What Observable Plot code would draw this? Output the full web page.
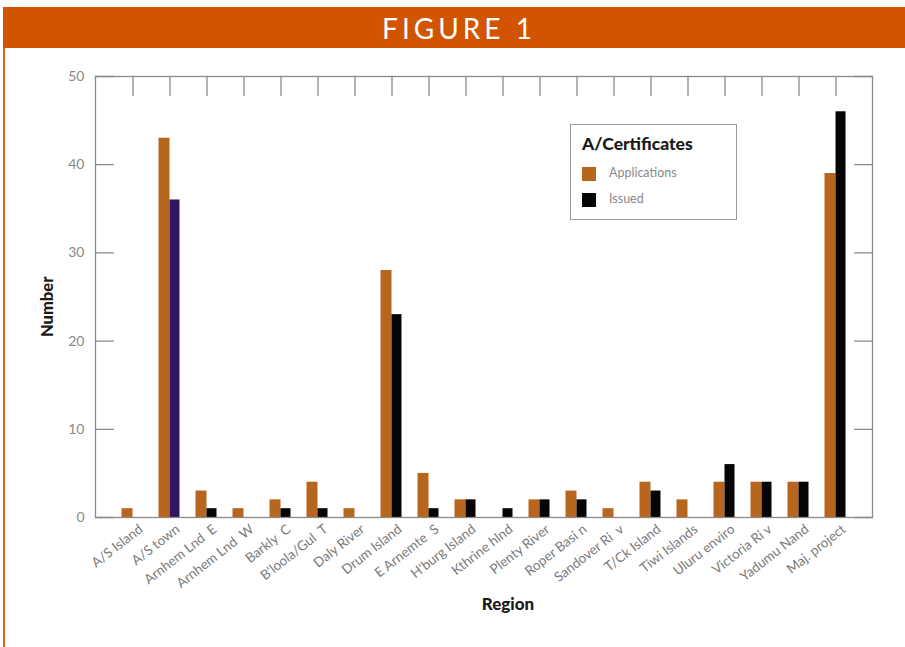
<!DOCTYPE html>
<html><head><meta charset="utf-8">
<script src="https://cdn.jsdelivr.net/npm/d3@7"></script>
<script src="https://cdn.jsdelivr.net/npm/@observablehq/plot@0.6"></script>
<style>
body{margin:0;background:#fff;width:905px;height:647px;position:relative;overflow:hidden;font-family:Lato, "Open Sans", sans-serif;}
#hdr{position:absolute;left:3px;top:7px;width:902px;height:41px;background:#d15400;color:#fff;font-size:28px;letter-spacing:4px;text-align:center;line-height:43px;text-indent:10px;}
#lborder{position:absolute;left:3px;top:48px;width:2px;height:599px;background:#d86a20;}
#chart{position:absolute;left:0;top:48px;}
#legend{position:absolute;left:570px;top:124px;width:167px;height:96px;border:1.5px solid #999;background:#fff;box-sizing:border-box;}
#legend .t{position:absolute;left:11px;top:8px;font-size:17.5px;font-weight:900;color:#1a1a1a;}
#legend .sw{position:absolute;left:11px;width:14px;height:14px;}
#legend .lb{position:absolute;left:38px;font-size:12.5px;color:#888;}
</style></head><body>
<div id="hdr">FIGURE 1</div>
<div id="lborder"></div>
<div id="chart"></div>
<div id="legend">
  <div class="t">A/Certificates</div>
  <div class="sw" style="top:42px;background:#b8651e"></div><div class="lb" style="top:40px">Applications</div>
  <div class="sw" style="top:68px;background:#050505"></div><div class="lb" style="top:66px">Issued</div>
</div>
<script>
const regions = ["A/S Island", "A/S town", "Arnhem Lnd\u00a0\u00a0E", "Arnhem Lnd\u00a0\u00a0W", "Barkly\u00a0\u00a0C", "B'loola/Gul\u00a0\u00a0T", "Daly River", "Drum Island", "E Arnemte\u00a0\u00a0S", "H'burg Island", "Kthrine hlnd", "Plenty River", "Roper Basi\u00a0n", "Sandover Ri\u00a0\u00a0v", "T/Ck Island", "Tiwi Islands", "Uluru enviro", "Victoria Ri\u00a0v", "Yadumu Nand", "Maj. project"];
const applications = [1, 43, 3, 1, 2, 4, 1, 28, 5, 2, 0, 2, 3, 1, 4, 2, 4, 4, 4, 39];
const issued = [0, 36, 1, 0, 1, 1, 0, 23, 1, 2, 1, 2, 2, 0, 3, 0, 6, 4, 4, 46];
const yTicks = [0, 10, 20, 30, 40, 50];

const appData = regions.map((r, i) => ({region: r, value: applications[i]}));
const issData = regions.map((r, i) => ({region: r, value: issued[i]}));

const grey = "#8a8a8a";
const line = {draw(context, l) { context.moveTo(0, 0); context.lineTo(0, -l); }};
const chart = Plot.plot({
  width: 905, height: 599,
  marginLeft: 95, marginRight: 33, marginTop: 28, marginBottom: 130,
  x: {domain: regions, insetLeft: 18, insetRight: 17, padding: 0, axis: null},
  y: {domain: [0, 50], axis: null},
  style: {fontFamily: "Lato, 'Open Sans', sans-serif", background: "transparent", overflow: "visible"},
  marks: [
    Plot.barY(appData, {x: "region", y: "value", fill: "#b8651e", insetLeft: 7.5, insetRight: 18.5}),
    Plot.barY(issData, {x: "region", y: "value", fill: d => d.region === "A/S town" ? "#2e1660" : "#050505", insetLeft: 18.5, insetRight: 8.5}),
    Plot.frame({stroke: grey, strokeWidth: 1.3}),
    Plot.vector(yTicks, {y: d => d, frameAnchor: "left", length: 18, rotate: 90, anchor: "start", shape: line, stroke: grey, strokeWidth: 1.3}),
    Plot.vector(yTicks, {y: d => d, frameAnchor: "right", length: 18, rotate: -90, anchor: "start", shape: line, stroke: grey, strokeWidth: 1.3}),
    Plot.vector(regions, {x: d => d, frameAnchor: "top", length: 19, rotate: 180, anchor: "start", shape: line, stroke: grey, strokeWidth: 1.3}),
    Plot.axisY(yTicks, {tickSize: 0, tickPadding: 11, fontSize: 14, color: grey, label: null}),
    Plot.axisX({tickSize: 0, tickPadding: 10, tickRotate: -38, dx: 8, fontSize: 13.5, color: "#7a7a7a", label: null}),
    Plot.text(["Number"], {frameAnchor: "left", dx: -48, dy: 40, rotate: -90, fontWeight: 900, fontSize: 16.5, fill: "#1a1a1a"}),
    Plot.text(["Region"], {frameAnchor: "bottom", dx: 24, dy: 92, fontWeight: 900, fontSize: 17, fill: "#1a1a1a"})
  ]
});
document.getElementById("chart").appendChild(chart);
</script>
</body></html>
